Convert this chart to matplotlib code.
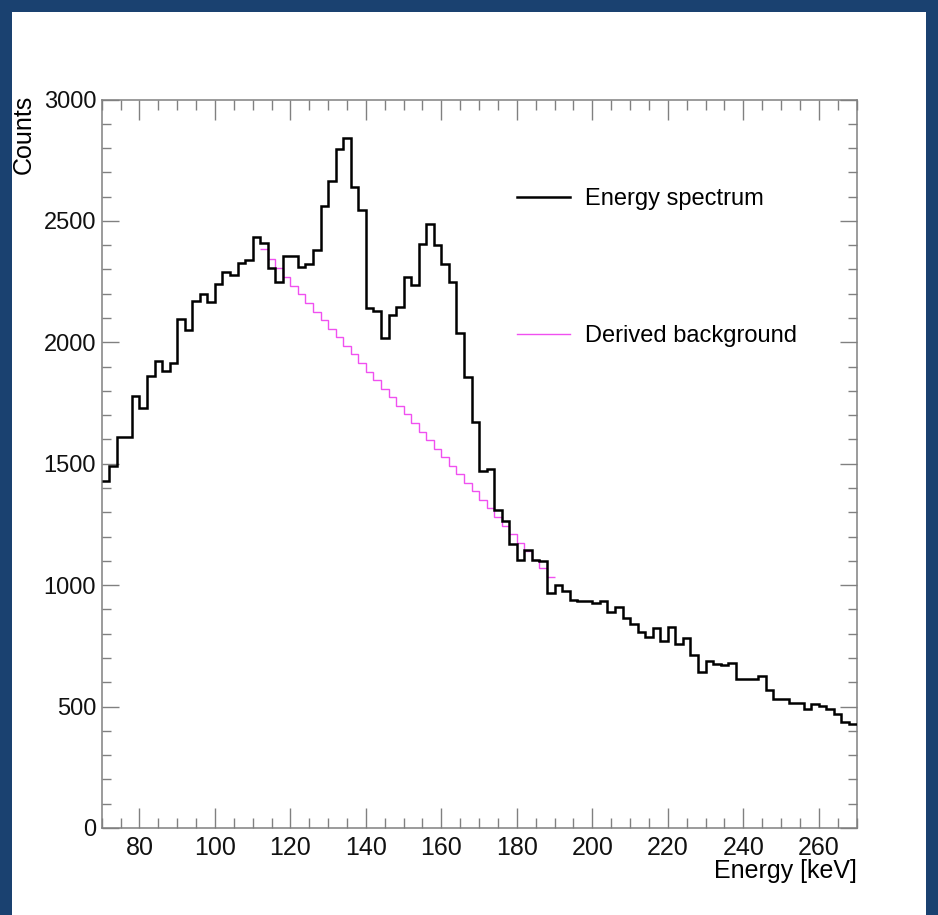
import numpy as np
import matplotlib.pyplot as plt
from matplotlib.ticker import MultipleLocator
from matplotlib.lines import Line2D
from matplotlib.patches import Rectangle

# energy binning: 2 keV bins from 70 to 270 keV
e_min = 70
bin_width = 2
n_bins = 100
edges = e_min + bin_width * np.arange(n_bins + 1)

# measured spectrum (counts per bin)
counts = [1430, 1490, 1610, 1612, 1780, 1730, 1862, 1925, 1880, 1915,
          2095, 2050, 2172, 2200, 2165, 2240, 2290, 2278, 2327, 2337,
          2434, 2408, 2308, 2248, 2356, 2354, 2310, 2321, 2379, 2561,
          2664, 2797, 2842, 2639, 2543, 2143, 2129, 2019, 2111, 2144,
          2267, 2235, 2403, 2486, 2399, 2321, 2247, 2038, 1856, 1670,
          1470, 1480, 1311, 1265, 1169, 1103, 1144, 1103, 1100, 968,
          1000, 977, 938, 935, 935, 925, 936, 890, 911, 863,
          840, 808, 787, 824, 769, 826, 758, 783, 712, 643,
          686, 675, 671, 678, 614, 612, 612, 624, 568, 531,
          530, 513, 513, 492, 511, 502, 489, 468, 435, 430]

# background under the two peaks, bins 21..59 (112-190 keV)
bg_first_bin = 21
background = [2385, 2345, 2305, 2268, 2232, 2197, 2161, 2126, 2090, 2055,
              2020, 1985, 1950, 1914, 1879, 1844, 1808, 1773, 1738, 1703,
              1668, 1632, 1597, 1562, 1527, 1491, 1456, 1421, 1386, 1351,
              1316, 1280, 1245, 1210, 1175, 1140, 1104, 1069, 1034]
bg_edges = edges[bg_first_bin:bg_first_bin + len(background) + 1]

plt.rcParams['font.family'] = ['Liberation Sans', 'DejaVu Sans']

W, H = 938, 915
fig = plt.figure(figsize=(W / 100, H / 100), dpi=100, facecolor='#1a4170')
fig.patches.append(Rectangle((12 / W, 0), (926 - 12) / W, (H - 12) / H,
                             transform=fig.transFigure, facecolor='white',
                             edgecolor='none', zorder=-5))

ax = fig.add_axes([101.7 / W, 1 - 828 / H, (856.5 - 101.7) / W, (828 - 99.5) / H])
ax.set_zorder(2)
ax.set_facecolor('white')

ax.stairs(background, bg_edges, baseline=None, color='#f050f0', linewidth=1.0, zorder=2)
ax.stairs(counts, edges, baseline=None, color='black', linewidth=1.8, zorder=3)

ax.set_xlim(70, 270)
ax.set_ylim(0, 3000)

ax.xaxis.set_major_locator(MultipleLocator(20))
ax.xaxis.set_minor_locator(MultipleLocator(5))
ax.yaxis.set_major_locator(MultipleLocator(500))
ax.yaxis.set_minor_locator(MultipleLocator(100))

gray = '#808080'
for s in ax.spines.values():
    s.set_color(gray)
    s.set_linewidth(1.1)
ax.tick_params(which='both', direction='in', top=True, right=True, color=gray,
               width=1.0, labelcolor='#111111')
ax.tick_params(axis='x', which='major', length=14.5, pad=6, labelsize=18)
ax.tick_params(axis='x', which='minor', length=7)
ax.tick_params(axis='y', which='major', length=12.5, pad=4, labelsize=17)
ax.tick_params(axis='y', which='minor', length=6.5)

ax.set_xlabel('Energy [keV]', fontsize=18, ha='right', va='top')
ax.xaxis.set_label_coords(1.0, -0.043)
ax.set_ylabel('Counts', fontsize=18, ha='right', va='bottom')
ax.yaxis.set_label_coords(-0.088, 1.006)

# legend entries, one box each so the spacing can be set freely
leg_font = {'size': 17}
h1 = Line2D([], [], color='black', linewidth=1.8)
h2 = Line2D([], [], color='#f050f0', linewidth=1.0)
leg1 = ax.legend([h1], ['Energy spectrum'], loc='center left', frameon=False,
                 bbox_to_anchor=(0.550, 1 - (199 - 99.5) / 728.5), prop=leg_font,
                 handlelength=2.25, handletextpad=0.64, borderaxespad=0, borderpad=0)
ax.add_artist(leg1)
ax.legend([h2], ['Derived background'], loc='center left', frameon=False,
          bbox_to_anchor=(0.550, 1 - (336 - 99.5) / 728.5), prop=leg_font,
          handlelength=2.25, handletextpad=0.64, borderaxespad=0, borderpad=0)

fig.savefig('out.png', dpi=100, facecolor=fig.get_facecolor())
